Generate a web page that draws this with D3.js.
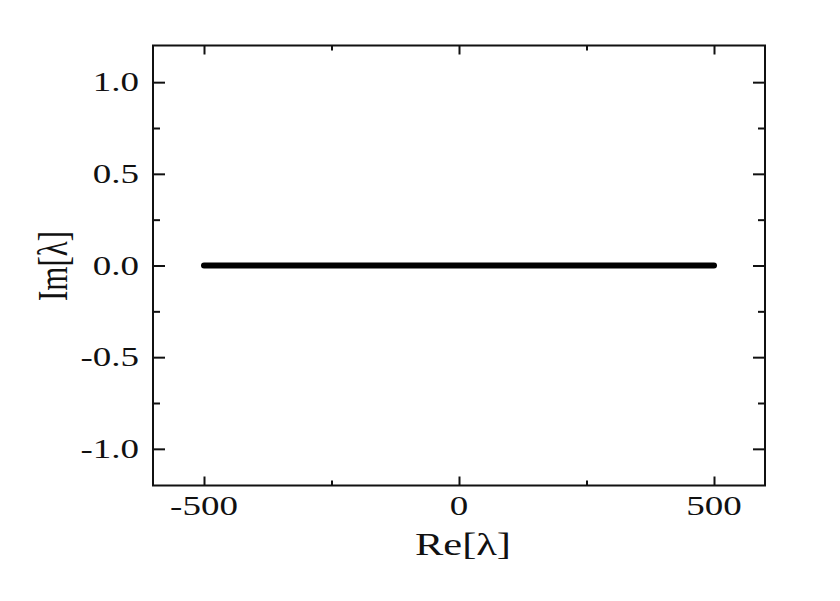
<!DOCTYPE html>
<html><head><meta charset="utf-8">
<script src="https://cdn.jsdelivr.net/npm/d3@7"></script>
<style>body{margin:0;background:#fff}svg{display:block}text{font-family:"Liberation Serif","Times New Roman",serif;fill:#111}</style>
</head><body>
<script>
const reValues = [-500,-450,-400,-350,-300,-250,-200,-150,-100,-50,0,50,100,150,200,250,300,350,400,450,500];
const imValues = [0,0,0,0,0,0,0,0,0,0,0,0,0,0,0,0,0,0,0,0,0];
const xMajorTicks = [-500,0,500];
const xMinorTicks = [-250,250];
const yMajorTicks = [-1.0,-0.5,0.0,0.5,1.0];
const yMinorTicks = [-0.75,-0.25,0.25,0.75];
const xTitle = "Re[λ]";
const yTitle = "Im[λ]";

const W=840,H=601, L=153, R=765, T=45.5, B=485.5, SX=1.37;
const svg=d3.select("body").append("svg").attr("width",W).attr("height",H);
const x=d3.scaleLinear().domain([-600,600]).range([L,R]);
const y=d3.scaleLinear().domain([-1.2,1.2]).range([B,T]);
const fmt=d3.format(".1f");

// data
svg.append("path").datum(reValues.map((r,i)=>[r,imValues[i]]))
 .attr("d",d3.line().x(d=>x(d[0])).y(d=>y(d[1])))
 .attr("fill","none").attr("stroke","#000").attr("stroke-width",6).attr("stroke-linecap","round");

// axes
function ax(axisFn,scale,ticks,size,tr){
  const g=svg.append("g").attr("transform",tr)
   .call(axisFn(scale).tickValues(ticks).tickSize(size).tickFormat(""));
  g.select(".domain").remove();
  g.selectAll("line").attr("stroke","#111").attr("stroke-width",2);
}
ax(d3.axisBottom,x,xMajorTicks,-9,`translate(0,${B})`);
ax(d3.axisBottom,x,xMinorTicks,-5,`translate(0,${B})`);
ax(d3.axisTop,x,xMajorTicks,-9,`translate(0,${T})`);
ax(d3.axisTop,x,xMinorTicks,-5,`translate(0,${T})`);
ax(d3.axisLeft,y,yMajorTicks,-12,`translate(${L},0)`);
ax(d3.axisLeft,y,yMinorTicks,-7,`translate(${L},0)`);
ax(d3.axisRight,y,yMajorTicks,-12,`translate(${R},0)`);
ax(d3.axisRight,y,yMinorTicks,-7,`translate(${R},0)`);

svg.append("rect").attr("x",L).attr("y",T).attr("width",R-L).attr("height",B-T)
 .attr("fill","none").attr("stroke","#111").attr("stroke-width",2);

// tick labels
svg.selectAll(".xl").data(xMajorTicks).join("text")
 .attr("transform",d=>`translate(${x(d)},515) scale(${SX},1)`)
 .attr("text-anchor","middle").attr("font-size",27).text(d=>d);
svg.selectAll(".yl").data(yMajorTicks).join("text")
 .attr("transform",d=>`translate(139,${y(d)+9}) scale(${SX},1)`)
 .attr("text-anchor","end").attr("font-size",27).text(d=>fmt(d).replace("−","-"));

// titles
svg.append("text").attr("transform",`translate(463,555) scale(${SX},1)`)
 .attr("text-anchor","middle").attr("font-size",31).text(xTitle);
svg.append("text").attr("transform",`translate(67,266) scale(${SX},1) rotate(-90)`)
 .attr("text-anchor","middle").attr("font-size",31).text(yTitle);
</script>
</body></html>
